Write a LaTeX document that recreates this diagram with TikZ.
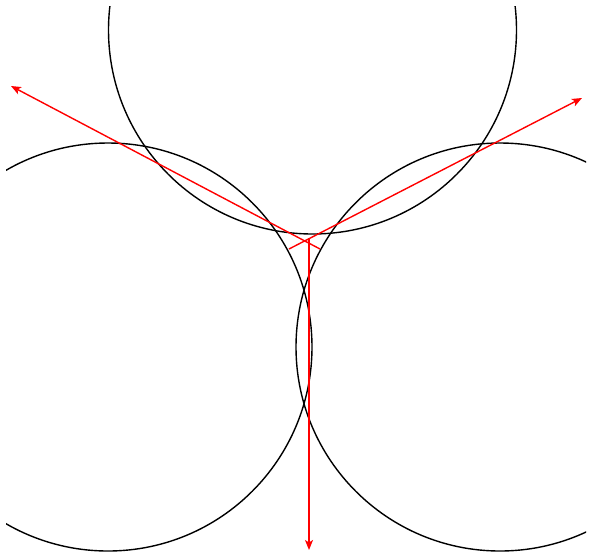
\documentclass[tikz,border=0pt]{standalone}
\usetikzlibrary{arrows.meta}
\begin{document}
\begin{tikzpicture}[x=1pt,y=-1pt,
  circ/.style={black, line width=1.4pt},
  ray/.style={red, line width=1.4pt, -{Stealth[length=10pt,width=8pt,inset=2.5pt]}}]
\useasboundingbox (0,0) rectangle (592,558);
\begin{scope}
  \clip (6,6) rectangle (586,556);
  \draw[circ] (312.5,30) circle[radius=204pt];
  \draw[circ] (108,347) circle[radius=204pt];
  \draw[circ] (500,347) circle[radius=204pt];
\end{scope}
\coordinate (a0) at (320,249);
\coordinate (a1) at (11,86);
\coordinate (b0) at (289,249);
\coordinate (b1) at (582,98);
\coordinate (c0) at (309,238);
\coordinate (c1) at (309,550);
\draw[ray] (a0) -- (a1);
\draw[ray] (b0) -- (b1);
\draw[ray] (c0) -- (c1);
\end{tikzpicture}
\end{document}
